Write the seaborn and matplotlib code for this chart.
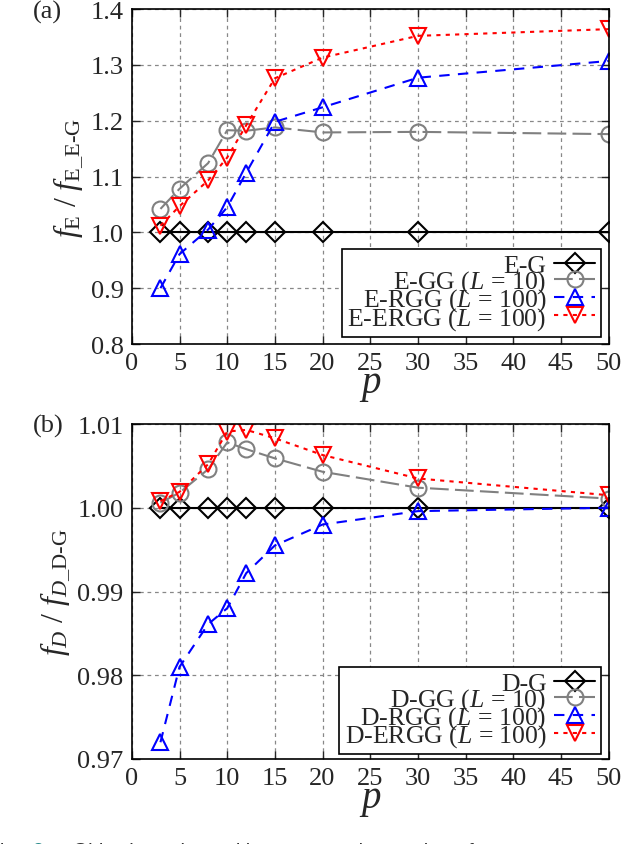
import numpy as np
import pandas as pd
import seaborn as sns
import matplotlib.pyplot as plt

p = [3, 5, 8, 10, 12, 15, 20, 30, 50]

e_g = [1.0, 1.0, 1.0, 1.0, 1.0, 1.0, 1.0, 1.0, 1.0]
e_gg = [1.042, 1.078, 1.124, 1.183, 1.182, 1.188, 1.179, 1.180, 1.176]
e_rgg = [0.900, 0.961, 1.005, 1.045, 1.107, 1.198, 1.224, 1.277, 1.307]
e_ergg = [1.012, 1.047, 1.093, 1.134, 1.192, 1.276, 1.313, 1.352, 1.364]

d_g = [1.0, 1.0, 1.0, 1.0, 1.0, 1.0, 1.0, 1.0, 1.0]
d_gg = [1.0006, 1.0018, 1.0046, 1.0078, 1.0070, 1.0059, 1.0043, 1.0024, 1.0011]
d_rgg = [0.9720, 0.9810, 0.9861, 0.9880, 0.9922, 0.9955, 0.9980, 0.9996, 1.0000]
d_ergg = [1.0008, 1.0019, 1.0052, 1.0091, 1.0093, 1.0083, 1.0063, 1.0035, 1.0015]

labels_a = ['E-G', r'E-GG ($L$ = 10)', r'E-RGG ($L$ = 100)', r'E-ERGG ($L$ = 100)']
labels_b = ['D-G', r'D-GG ($L$ = 10)', r'D-RGG ($L$ = 100)', r'D-ERGG ($L$ = 100)']

sns.set_theme(style="ticks")
plt.rcParams['font.family'] = ['Liberation Serif', 'DejaVu Serif']
plt.rcParams['mathtext.fontset'] = 'custom'
plt.rcParams['mathtext.rm'] = 'Liberation Serif'
plt.rcParams['mathtext.it'] = 'Liberation Serif:italic'

styles = [
    dict(color='black', marker='D', ms=10, linestyle='-'),
    dict(color='#808080', marker='o', ms=11.5, linestyle=(0, (9, 3))),
    dict(color='#0000ff', marker='^', ms=12, linestyle=(0, (5, 4))),
    dict(color='#ff0000', marker='v', ms=12, linestyle=(0, (2, 2.5))),
]

fig = plt.figure(figsize=(6.4, 8.45), dpi=100)
ax1 = fig.add_axes([0.206, 0.5917, 0.745, 0.3964])
ax2 = fig.add_axes([0.206, 0.1006, 0.745, 0.3964])


def draw(ax, series, labels):
    for vals, lab, st in zip(series, labels, styles):
        df = pd.DataFrame({'p': p, 'v': vals})
        sns.lineplot(data=df, x='p', y='v', ax=ax, color=st['color'],
                     marker=st['marker'], ms=st['ms'], linestyle=st['linestyle'],
                     mfc='none', mec=st['color'], mew=1.5, lw=1.5, label=lab,
                     legend=False)
    ax.set_xlim(0, 50)
    ax.set_xticks(np.arange(0, 51, 5))
    ax.grid(True, color='#888888', linestyle=(0, (3, 3)), linewidth=0.9)
    ax.tick_params(direction='in', top=True, right=True, length=6,
                   labelsize=19, pad=6, width=1)
    for s in ax.spines.values():
        s.set_linewidth(1.2)
        s.set_color('black')
    ax.set_xlabel(r'$p$', fontsize=28, labelpad=-6)


draw(ax1, [e_g, e_gg, e_rgg, e_ergg], labels_a)
ax1.set_ylim(0.8, 1.4)
ax1.set_yticks(np.arange(0.8, 1.41, 0.1))
ax1.set_yticklabels([f'{v:.1f}' for v in np.arange(0.8, 1.41, 0.1)])
ax1.set_ylabel(r'$f_{\rm E}\ /\ f_{\text{E\_E-G}}$', fontsize=23, labelpad=4)

draw(ax2, [d_g, d_gg, d_rgg, d_ergg], labels_b)
ax2.set_ylim(0.97, 1.01)
ax2.set_yticks(np.arange(0.97, 1.0101, 0.01))
ax2.set_yticklabels([f'{v:.2f}' for v in np.arange(0.97, 1.0101, 0.01)])
ax2.set_ylabel(r'$f_D\ /\ f_{D\text{\_D-G}}$', fontsize=23, labelpad=4)

for ax, anchor in [(ax1, (0.983, 0.022)), (ax2, (0.983, 0.014))]:
    leg = ax.legend(loc='lower right', bbox_to_anchor=anchor, borderaxespad=0,
                    markerfirst=False, fontsize=18.5, labelspacing=-0.34,
                    handlelength=1.6, handletextpad=0.3, borderpad=0.2,
                    fancybox=False, framealpha=1, edgecolor='black')
    leg.get_frame().set_linewidth(1.2)

fig.text(0.052, 0.999, '(a)', fontsize=19, va='top')
fig.text(0.052, 0.509, '(b)', fontsize=19, va='top')

# caption of the source page, only its top edge is visible
fig.text(0.0, -0.013, 'ig.', fontsize=14, color='#333333', va='baseline',
         family='Liberation Sans')
fig.text(0.051, -0.013, '3.', fontsize=14, color='#2a8a8a', va='baseline',
         family='Liberation Sans')
fig.text(0.114, -0.013, 'Objective values with respect to the number of processors',
         fontsize=14, color='#333333', va='baseline', family='Liberation Sans')

fig.savefig('out.png', dpi=100)
